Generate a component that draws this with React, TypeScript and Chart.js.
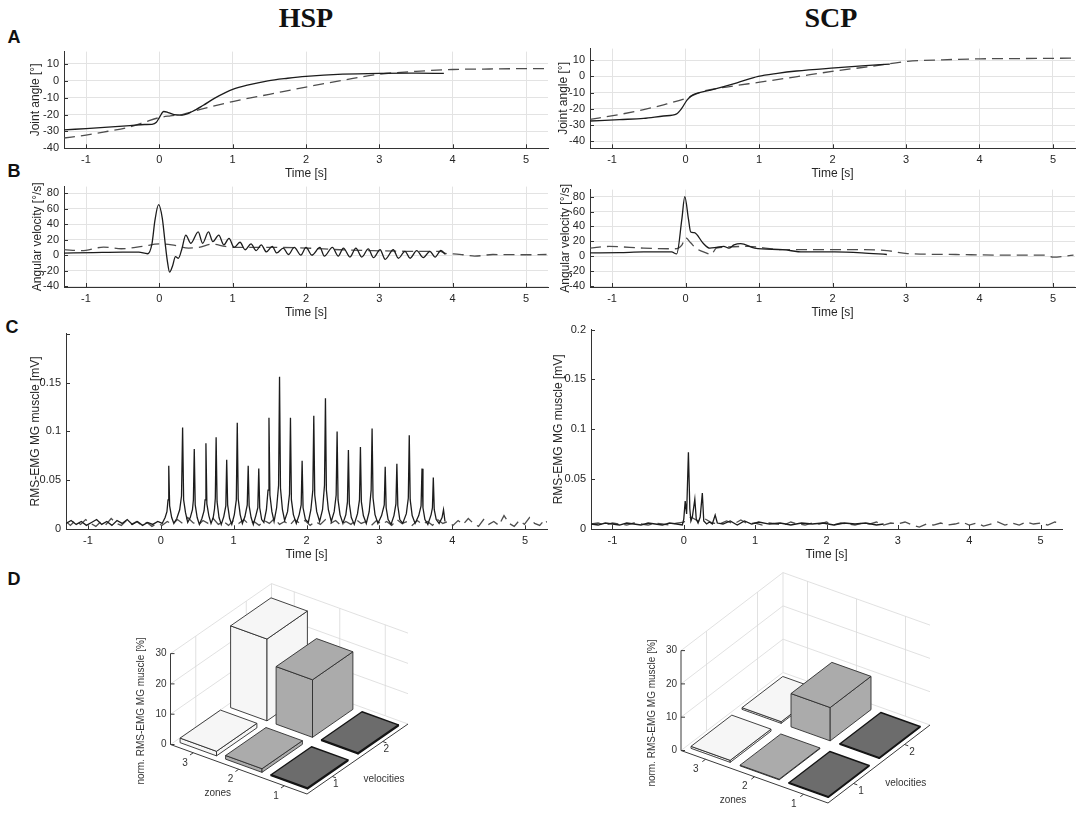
import React, { useEffect, useRef } from 'react';
import Chart from 'chart.js/auto';

type Pt = [number, number];

// A - joint angle [°] over time [s]
const hspAngleSolid: Pt[] = [
  [-1.3, -29.1], [-1.0, -28.3], [-0.7, -27.5], [-0.4, -26.6], [-0.2, -25.9], [-0.1, -25.8],
  [-0.04, -24.6], [0.0, -21.8], [0.06, -18.2], [0.12, -18.8], [0.2, -20.0], [0.31, -20.3],
  [0.45, -18.2], [0.6, -14.5], [0.75, -10.4], [0.9, -7.0], [1.0, -5.1], [1.2, -2.6],
  [1.48, 0.0], [1.75, 1.5], [2.0, 2.6], [2.5, 3.9], [3.0, 4.4], [3.5, 4.5], [3.88, 4.4],
];
const hspAngleDashed: Pt[] = [
  [-1.3, -33.9], [-1.0, -32.2], [-0.7, -29.9], [-0.42, -27.6], [-0.2, -24.5], [0.0, -21.8],
  [0.15, -20.8], [0.31, -20.0], [0.6, -16.5], [1.0, -12.3], [1.5, -8.0], [2.0, -3.7],
  [2.5, 0.3], [3.0, 3.9], [3.5, 5.6], [4.0, 6.7], [4.5, 7.0], [5.0, 7.2], [5.3, 7.2],
];
const scpAngleSolid: Pt[] = [
  [-1.3, -27.5], [-0.9, -26.6], [-0.57, -25.9], [-0.3, -24.4], [-0.12, -23.1], [-0.05, -19.6],
  [0.02, -14.6], [0.08, -12.0], [0.14, -10.6], [0.38, -8.0], [0.7, -4.0], [0.99, 0.0],
  [1.25, 1.9], [1.51, 3.3], [2.03, 5.2], [2.4, 6.4], [2.78, 7.6],
];
const scpAngleDashed: Pt[] = [
  [-1.3, -26.5], [-0.9, -23.5], [-0.57, -20.5], [-0.3, -17.5], [0.0, -13.6], [0.24, -9.2],
  [0.6, -6.3], [0.99, -3.7], [1.5, -0.3], [2.03, 3.3], [2.5, 6.0], [3.02, 9.2],
  [3.5, 10.2], [4.01, 10.8], [4.6, 11.0], [5.28, 11.2],
];

// B - angular velocity [°/s]
const hspVelSolid: Pt[] = [
  [-1.3, 2.6], [-0.9, 3.3], [-0.5, 3.9], [-0.28, 3.8], [-0.16, 1.8], [-0.1, 15], [-0.06, 45],
  [-0.01, 65.4], [0.04, 48], [0.08, 15], [0.11, -8], [0.14, -22], [0.18, -14], [0.22, -2],
  [0.26, -4], [0.31, 9], [0.36, 26], [0.43, 15.4], [0.53, 30], [0.59, 15.4], [0.67, 30],
  [0.73, 17.5], [0.81, 26], [0.88, 13.3], [0.95, 21.7], [1.02, 10], [1.1, 16.7], [1.17, 7],
  [1.25, 14.6], [1.32, 5.8], [1.39, 13.3], [1.46, 4.2], [1.54, 11.3], [1.6, 2.9], [1.69, 9.2],
  [1.76, 0.8], [1.84, 10], [1.93, 0], [2.0, 10], [2.08, 0], [2.19, 10], [2.25, -1.3],
  [2.36, 10], [2.44, -1.3], [2.51, 9.2], [2.6, -2.5], [2.68, 9.2], [2.76, -2.5], [2.85, 8],
  [2.92, -3.3], [3.01, 7], [3.08, -5.4], [3.19, 7], [3.26, -4], [3.35, 5], [3.42, -4],
  [3.51, 5.8], [3.6, -3.3], [3.69, 5], [3.76, -2.5], [3.84, 6], [3.9, 1],
];
const hspVelDashed: Pt[] = [
  [-1.3, 7.1], [-1.06, 5.8], [-0.76, 10.4], [-0.52, 8.3], [-0.23, 11.3], [0.0, 14.6],
  [0.17, 13.3], [0.4, 9.2], [0.54, 10], [0.72, 14.2], [0.9, 11.3], [1.09, 10], [1.55, 10],
  [2.0, 9.2], [2.46, 7], [2.92, 5.8], [3.37, 5], [3.83, 5], [3.9, 2.1], [4.01, 1.7],
  [4.15, 0.5], [4.3, -1.3], [4.55, 0.8], [5.0, 0.5], [5.28, 0.8],
];
const scpVelSolid: Pt[] = [
  [-1.3, 4.4], [-0.9, 4.8], [-0.57, 5.7], [-0.19, 5.7], [-0.12, 3.1], [-0.05, 49.7],
  [-0.01, 80], [0.04, 49.7], [0.07, 32.5], [0.12, 31.6], [0.24, 17.4], [0.33, 10.9],
  [0.42, 11.8], [0.52, 13.1], [0.59, 10.9], [0.66, 15.2], [0.75, 16.9], [0.94, 10.9],
  [1.32, 8.8], [1.6, 5.7], [2.03, 5.7], [2.4, 4.5], [2.74, 2.3],
];
const scpVelDashed: Pt[] = [
  [-1.3, 10.9], [-1.04, 13.1], [-0.57, 10.9], [-0.14, 10], [-0.05, 15], [0.0, 24.7],
  [0.07, 18], [0.14, 10.9], [0.28, 4.4], [0.35, 2.3], [0.42, 10.9], [0.85, 13.1],
  [1.32, 8.8], [1.79, 8.8], [2.27, 8.8], [2.74, 7.5], [3.02, 3.6], [3.68, 2.3], [4.3, 1.5],
  [4.9, 1.4], [5.0, -1.2], [5.28, 1.4],
];

// C - RMS-EMG MG muscle [mV]
const hspEmgSolid: Pt[] = [
  [-1.3, 0.006], [-1.23, 0.009], [-1.16, 0.005], [-1.09, 0.008], [-1.02, 0.004], [-0.95, 0.007],
  [-0.88, 0.01], [-0.81, 0.005], [-0.74, 0.008], [-0.67, 0.004], [-0.6, 0.009], [-0.53, 0.006],
  [-0.46, 0.01], [-0.39, 0.005], [-0.32, 0.008], [-0.25, 0.004], [-0.18, 0.007], [-0.11, 0.005],
  [-0.04, 0.008], [0.02, 0.006], [0.06, 0.012],
  [0.085, 0.018], [0.1, 0.03], [0.11, 0.065], [0.122, 0.024], [0.15, 0.012], [0.18, 0.006], [0.22, 0.011],
  [0.26, 0.02], [0.285, 0.034], [0.3, 0.104], [0.314, 0.03], [0.34, 0.017], [0.37, 0.007], [0.405, 0.012],
  [0.435, 0.02], [0.448, 0.03], [0.46, 0.082], [0.473, 0.025], [0.5, 0.012], [0.53, 0.005], [0.565, 0.011],
  [0.595, 0.019], [0.608, 0.03], [0.62, 0.088], [0.633, 0.026], [0.66, 0.014], [0.69, 0.006], [0.72, 0.012],
  [0.738, 0.021], [0.749, 0.032], [0.76, 0.094], [0.773, 0.028], [0.8, 0.012], [0.83, 0.005], [0.865, 0.013],
  [0.893, 0.024], [0.905, 0.071], [0.918, 0.025], [0.945, 0.011], [0.975, 0.005], [1.01, 0.015],
  [1.037, 0.03], [1.05, 0.109], [1.063, 0.031], [1.09, 0.015], [1.12, 0.006], [1.155, 0.013],
  [1.187, 0.025], [1.2, 0.065], [1.213, 0.024], [1.24, 0.012], [1.27, 0.005], [1.305, 0.014],
  [1.332, 0.022], [1.345, 0.062], [1.358, 0.022], [1.385, 0.01], [1.415, 0.007], [1.45, 0.02],
  [1.472, 0.04], [1.485, 0.114], [1.498, 0.035], [1.525, 0.018], [1.555, 0.008], [1.59, 0.022],
  [1.617, 0.045], [1.63, 0.156], [1.643, 0.042], [1.67, 0.02], [1.7, 0.009], [1.74, 0.018],
  [1.767, 0.036], [1.78, 0.114], [1.793, 0.03], [1.82, 0.015], [1.86, 0.006], [1.9, 0.015],
  [1.927, 0.025], [1.94, 0.07], [1.953, 0.022], [1.985, 0.01], [2.025, 0.007], [2.06, 0.02],
  [2.087, 0.04], [2.1, 0.116], [2.113, 0.035], [2.14, 0.018], [2.18, 0.008], [2.22, 0.02],
  [2.247, 0.045], [2.26, 0.134], [2.273, 0.04], [2.3, 0.02], [2.34, 0.008], [2.38, 0.018],
  [2.407, 0.035], [2.42, 0.1], [2.433, 0.03], [2.46, 0.015], [2.5, 0.006], [2.54, 0.015],
  [2.562, 0.028], [2.575, 0.081], [2.588, 0.026], [2.615, 0.012], [2.655, 0.005], [2.7, 0.016],
  [2.727, 0.03], [2.74, 0.084], [2.753, 0.028], [2.78, 0.014], [2.82, 0.006], [2.86, 0.018],
  [2.887, 0.04], [2.9, 0.103], [2.913, 0.032], [2.94, 0.015], [2.98, 0.006], [3.03, 0.014],
  [3.067, 0.025], [3.08, 0.064], [3.093, 0.022], [3.12, 0.01], [3.16, 0.005], [3.2, 0.014],
  [3.227, 0.026], [3.24, 0.067], [3.253, 0.024], [3.28, 0.01], [3.32, 0.006], [3.37, 0.016],
  [3.397, 0.032], [3.41, 0.096], [3.423, 0.03], [3.45, 0.014], [3.49, 0.006], [3.54, 0.014],
  [3.572, 0.024], [3.585, 0.062], [3.598, 0.022], [3.625, 0.01], [3.665, 0.005], [3.71, 0.015],
  [3.728, 0.022], [3.74, 0.053], [3.753, 0.02], [3.78, 0.01], [3.82, 0.006], [3.86, 0.012],
  [3.88, 0.02], [3.9, 0.008],
];
const hspEmgDashed: Pt[] = [
  [-1.3, 0.008], [-1.24, 0.004], [-1.17, 0.009], [-1.1, 0.005], [-1.03, 0.01], [-0.96, 0.006],
  [-0.89, 0.003], [-0.82, 0.008], [-0.75, 0.005], [-0.68, 0.011], [-0.61, 0.006], [-0.54, 0.004],
  [-0.47, 0.009], [-0.4, 0.005], [-0.33, 0.008], [-0.26, 0.004], [-0.19, 0.007], [-0.12, 0.003],
  [-0.05, 0.006], [0.02, 0.004], [0.09, 0.008], [0.16, 0.005], [0.23, 0.01], [0.3, 0.006],
  [0.37, 0.012], [0.44, 0.007], [0.51, 0.004], [0.58, 0.009], [0.65, 0.006], [0.72, 0.011],
  [0.79, 0.005], [0.86, 0.008], [0.93, 0.004], [1.0, 0.009], [1.07, 0.006], [1.14, 0.01],
  [1.21, 0.005], [1.28, 0.008], [1.35, 0.004], [1.42, 0.009], [1.49, 0.006], [1.56, 0.011],
  [1.63, 0.005], [1.7, 0.008], [1.77, 0.004], [1.84, 0.01], [1.91, 0.006], [1.98, 0.009],
  [2.05, 0.004], [2.12, 0.008], [2.19, 0.005], [2.26, 0.01], [2.33, 0.006], [2.4, 0.009],
  [2.47, 0.004], [2.54, 0.008], [2.61, 0.005], [2.68, 0.01], [2.75, 0.006], [2.82, 0.008],
  [2.89, 0.004], [2.96, 0.009], [3.03, 0.005], [3.1, 0.008], [3.17, 0.004], [3.24, 0.01],
  [3.31, 0.006], [3.38, 0.008], [3.45, 0.004], [3.52, 0.009], [3.59, 0.005], [3.66, 0.008],
  [3.73, 0.004], [3.8, 0.01], [3.87, 0.006], [3.94, 0.008], [4.01, 0.004], [4.08, 0.009],
  [4.15, 0.005], [4.22, 0.011], [4.29, 0.006], [4.36, 0.003], [4.43, 0.01], [4.5, 0.005],
  [4.57, 0.008], [4.64, 0.004], [4.71, 0.014], [4.78, 0.006], [4.85, 0.003], [4.92, 0.009],
  [4.99, 0.005], [5.06, 0.012], [5.13, 0.006], [5.2, 0.004], [5.27, 0.01], [5.3, 0.007],
];
const scpEmgSolid: Pt[] = [
  [-1.3, 0.005], [-1.2, 0.004], [-1.1, 0.006], [-1.0, 0.005], [-0.9, 0.004], [-0.8, 0.006],
  [-0.7, 0.005], [-0.6, 0.004], [-0.5, 0.006], [-0.4, 0.005], [-0.3, 0.004], [-0.2, 0.006],
  [-0.1, 0.005], [-0.02, 0.004], [0.0, 0.01], [0.02, 0.028], [0.04, 0.015], [0.065, 0.077],
  [0.085, 0.02], [0.1, 0.008], [0.12, 0.012], [0.155, 0.03], [0.175, 0.01], [0.2, 0.006],
  [0.23, 0.012], [0.26, 0.036], [0.28, 0.008], [0.32, 0.005], [0.36, 0.007], [0.4, 0.005],
  [0.44, 0.014], [0.47, 0.006], [0.55, 0.005], [0.65, 0.008], [0.75, 0.004], [0.85, 0.008],
  [0.95, 0.005], [1.05, 0.007], [1.2, 0.005], [1.35, 0.006], [1.5, 0.004], [1.65, 0.006],
  [1.8, 0.005], [1.95, 0.006], [2.1, 0.004], [2.25, 0.006], [2.4, 0.005], [2.55, 0.006],
  [2.7, 0.004], [2.8, 0.005],
];
const scpEmgDashed: Pt[] = [
  [-1.3, 0.005], [-1.2, 0.006], [-1.1, 0.004], [-1.0, 0.006], [-0.9, 0.005], [-0.8, 0.004],
  [-0.7, 0.006], [-0.6, 0.005], [-0.5, 0.004], [-0.4, 0.006], [-0.3, 0.005], [-0.2, 0.004],
  [-0.1, 0.006], [0.0, 0.007], [0.1, 0.012], [0.2, 0.008], [0.3, 0.01], [0.4, 0.006],
  [0.5, 0.005], [0.6, 0.008], [0.7, 0.005], [0.8, 0.009], [0.9, 0.005], [1.0, 0.006],
  [1.1, 0.004], [1.2, 0.006], [1.3, 0.005], [1.4, 0.004], [1.5, 0.007], [1.6, 0.005],
  [1.7, 0.004], [1.8, 0.006], [1.9, 0.005], [2.0, 0.007], [2.1, 0.004], [2.2, 0.006],
  [2.3, 0.005], [2.4, 0.004], [2.5, 0.006], [2.6, 0.005], [2.7, 0.007], [2.8, 0.004],
  [2.9, 0.006], [3.0, 0.005], [3.1, 0.007], [3.2, 0.004], [3.3, 0.002], [3.4, 0.005],
  [3.5, 0.004], [3.6, 0.006], [3.7, 0.004], [3.8, 0.005], [3.9, 0.007], [4.0, 0.004],
  [4.1, 0.006], [4.2, 0.003], [4.3, 0.005], [4.4, 0.007], [4.5, 0.004], [4.6, 0.006],
  [4.7, 0.004], [4.8, 0.007], [4.9, 0.005], [5.0, 0.006], [5.1, 0.004], [5.2, 0.007],
  [5.3, 0.005],
];

// D - norm. RMS-EMG MG muscle [%] per zone (1..3), one list per velocity
const zones = [1, 2, 3];
const velocities = [1, 2];
const hspNormVel1 = [0.3, 1.2, 1.5];
const hspNormVel2 = [0.3, 19, 27];
const scpNormVel1 = [0.2, 0.2, 0.6];
const scpNormVel2 = [0.2, 10, 0.5];
const zTicks = [0, 10, 20, 30];

const SANS = '"Liberation Sans", Arial, Helvetica, sans-serif';
const INK = '#262626';

const inwardTicks = {
  id: 'inwardTicks',
  afterDraw(chart: any) {
    const { ctx, chartArea, scales } = chart;
    ctx.save();
    ctx.strokeStyle = '#333';
    ctx.lineWidth = 1;
    ctx.beginPath();
    scales.x.ticks.forEach((t: any) => {
      const px = Math.round(scales.x.getPixelForValue(t.value)) + 0.5;
      ctx.moveTo(px, chartArea.bottom);
      ctx.lineTo(px, chartArea.bottom - 4);
    });
    scales.y.ticks.forEach((t: any) => {
      const py = Math.round(scales.y.getPixelForValue(t.value)) + 0.5;
      ctx.moveTo(chartArea.left, py);
      ctx.lineTo(chartArea.left + 4, py);
    });
    ctx.stroke();
    ctx.restore();
  },
};

interface PanelBox {
  left: number;
  right: number;
  top: number;
  bottom: number;
  yTitleX: number;
  xTitleY: number;
}

interface LinePanelProps {
  solid: Pt[];
  dashed: Pt[];
  yMin: number;
  yMax: number;
  yStep: number;
  yTitle: string;
  grid: boolean;
  smooth: boolean;
  hideTopTick?: boolean;
  box: PanelBox;
}

const LinePanel: React.FC<LinePanelProps> = ({ solid, dashed, yMin, yMax, yStep, yTitle, grid, smooth, hideTopTick, box }) => {
  const canvasRef = useRef<HTMLCanvasElement>(null);
  const chartRef = useRef<Chart | null>(null);

  // whole-pixel canvas placement, so nothing gets resampled
  const cLeft = Math.round(box.yTitleX - 9);
  const cTop = Math.round(box.top - 8);
  const cW = Math.round(box.right + 6) - cLeft;
  const cH = Math.round(box.xTitleY + 9) - cTop;
  const padTop = box.top - cTop;
  const padRight = cLeft + cW - box.right;
  const yAxisW = box.left - cLeft;
  const xAxisH = cTop + cH - box.bottom;
  const yTitlePad = box.yTitleX - cLeft - 7.2;
  const xTitlePad = cTop + cH - box.xTitleY - 7.2;

  useEffect(() => {
    const ctx = canvasRef.current?.getContext('2d');
    if (!ctx) return;
    if (chartRef.current) chartRef.current.destroy();

    const series = (pts: Pt[], dash: number[], color: string) => ({
      data: pts.map(([x, y]) => ({ x, y })),
      borderColor: color,
      borderWidth: 1.3,
      borderDash: dash,
      pointRadius: 0,
      fill: false,
      tension: 0,
      cubicInterpolationMode: smooth ? 'monotone' : 'default',
    });

    chartRef.current = new Chart(ctx, {
      type: 'line',
      data: {
        datasets: [series(solid, [], '#1c1c1c'), series(dashed, [11, 6], '#4d4d4d')],
      },
      options: {
        animation: false,
        responsive: false,
        layout: { padding: { left: 0, top: padTop, right: padRight, bottom: 0 } },
        plugins: { legend: { display: false }, tooltip: { enabled: false } },
        scales: {
          x: {
            type: 'linear',
            min: -1.3,
            max: 5.3,
            afterFit: (s: any) => { s.height = xAxisH; },
            ticks: { stepSize: 1, includeBounds: false, padding: 5, maxRotation: 0, autoSkip: false, color: INK, font: { family: SANS, size: 11 } },
            grid: { display: grid, color: '#e3e3e3', drawTicks: false },
            border: { display: true, color: '#333', width: 1 },
            title: { display: true, text: 'Time [s]', color: INK, font: { family: SANS, size: 12 }, padding: { top: 0, bottom: xTitlePad } },
          },
          y: {
            type: 'linear',
            min: yMin,
            max: yMax,
            afterFit: (s: any) => { s.width = yAxisW; },
            ticks: {
              stepSize: yStep,
              includeBounds: false,
              padding: 5,
              autoSkip: false,
              color: INK,
              font: { family: SANS, size: 11 },
              callback: (v: any) => (hideTopTick && Math.abs(v - yMax) < 1e-9 ? '' : String(Number(Number(v).toFixed(3)))),
            },
            grid: { display: grid, color: '#e3e3e3', drawTicks: false },
            border: { display: true, color: '#333', width: 1 },
            title: { display: true, text: yTitle, color: INK, font: { family: SANS, size: 12 }, padding: { top: yTitlePad, bottom: 0 } },
          },
        },
      },
      plugins: [inwardTicks],
    } as any);

    return () => {
      if (chartRef.current) {
        chartRef.current.destroy();
        chartRef.current = null;
      }
    };
  }, [solid, dashed, yMin, yMax, yStep, yTitle, grid, smooth, hideTopTick, xAxisH, yAxisW, padTop, padRight, xTitlePad, yTitlePad]);

  return (
    <canvas
      ref={canvasRef}
      width={cW}
      height={cH}
      style={{ position: 'absolute', left: cLeft, top: cTop, width: cW, height: cH }}
    />
  );
};

interface Projection {
  fx: number;
  fy: number;
  dz: [number, number];
  dv: [number, number];
  hs: number;
}

interface Bar3DProps {
  vel1: number[];
  vel2: number[];
  left: number;
  top: number;
  width: number;
  height: number;
  proj: Projection;
  zoneOff: [number, number];
  velOff: [number, number];
  zonesTitleOff: [number, number];
  velTitleOff: [number, number];
  zTitleDx: number;
  zTitleY: number;
}

const zoneColors = ['#6c6c6c', '#ababab', '#f6f6f6'];

const Bar3D: React.FC<Bar3DProps> = (props) => {
  const { vel1, vel2, left, top, width, height } = props;
  const canvasRef = useRef<HTMLCanvasElement>(null);
  const chartRef = useRef<Chart | null>(null);

  useEffect(() => {
    const ctx = canvasRef.current?.getContext('2d');
    if (!ctx) return;
    if (chartRef.current) chartRef.current.destroy();
    const { proj, zoneOff, velOff, zonesTitleOff, velTitleOff, zTitleDx, zTitleY } = props;

    const scene = {
      id: 'bar3dScene',
      afterDatasetsDraw(chart: any) {
        const c = chart.ctx as CanvasRenderingContext2D;
        const sx = chart.scales.x;
        const sy = chart.scales.y;
        const P = (z: number, v: number, h: number): [number, number] => {
          const x = proj.fx + (z - 0.5) * proj.dz[0] + (v - 0.5) * proj.dv[0];
          const y = proj.fy + (z - 0.5) * proj.dz[1] + (v - 0.5) * proj.dv[1] - h * proj.hs;
          return [sx.getPixelForValue(x), sy.getPixelForValue(y)];
        };
        const seg = (a: [number, number], b: [number, number]) => {
          c.moveTo(a[0], a[1]);
          c.lineTo(b[0], b[1]);
        };
        const zMax = zTicks[zTicks.length - 1];
        c.save();

        // back walls grid
        c.strokeStyle = '#d9d9d9';
        c.lineWidth = 0.8;
        c.beginPath();
        zTicks.forEach((h) => {
          seg(P(3.5, 0.5, h), P(3.5, 2.5, h));
          seg(P(3.5, 2.5, h), P(0.5, 2.5, h));
        });
        [...velocities, 2.5].forEach((v) => seg(P(3.5, v, 0), P(3.5, v, zMax)));
        zones.forEach((z) => seg(P(z, 2.5, 0), P(z, 2.5, zMax)));
        c.stroke();

        // axes
        c.strokeStyle = '#3a3a3a';
        c.lineWidth = 1;
        c.beginPath();
        seg(P(3.5, 0.5, 0), P(3.5, 0.5, zMax));
        seg(P(0.5, 0.5, 0), P(3.5, 0.5, 0));
        seg(P(0.5, 0.5, 0), P(0.5, 2.5, 0));
        zTicks.forEach((h) => {
          const p = P(3.5, 0.5, h);
          seg(p, [p[0] + 4, p[1]]);
        });
        const dvLen = Math.hypot(proj.dv[0], proj.dv[1]);
        const dzLen = Math.hypot(proj.dz[0], proj.dz[1]);
        zones.forEach((z) => {
          const p = P(z, 0.5, 0);
          seg(p, [p[0] - (proj.dv[0] / dvLen) * 4, p[1] - (proj.dv[1] / dvLen) * 4]);
        });
        velocities.forEach((v) => {
          const p = P(0.5, v, 0);
          seg(p, [p[0] - (proj.dz[0] / dzLen) * 4, p[1] - (proj.dz[1] / dzLen) * 4]);
        });
        c.stroke();

        // bars, far ones first
        const bars: { z: number; v: number; h: number }[] = [];
        chart.data.datasets.forEach((ds: any, di: number) => {
          ds.data.forEach((pt: any) => bars.push({ z: pt.x, v: velocities[di], h: pt.y }));
        });
        bars.sort((a, b) => P(a.z, a.v, 0)[1] - P(b.z, b.v, 0)[1]);
        const w = 0.4;
        const face = (pts: [number, number][], fill: string) => {
          c.beginPath();
          c.moveTo(pts[0][0], pts[0][1]);
          for (let i = 1; i < pts.length; i++) c.lineTo(pts[i][0], pts[i][1]);
          c.closePath();
          c.fillStyle = fill;
          c.fill();
          c.stroke();
        };
        bars.forEach(({ z, v, h }) => {
          const fill = zoneColors[z - 1];
          c.strokeStyle = z === 1 ? '#151515' : '#2e2e2e';
          c.lineWidth = z === 1 ? 1.4 : 0.9;
          c.lineJoin = 'round';
          face([P(z + w, v - w, 0), P(z - w, v - w, 0), P(z - w, v - w, h), P(z + w, v - w, h)], fill);
          face([P(z - w, v - w, 0), P(z - w, v + w, 0), P(z - w, v + w, h), P(z - w, v - w, h)], fill);
          face([P(z - w, v - w, h), P(z + w, v - w, h), P(z + w, v + w, h), P(z - w, v + w, h)], fill);
        });

        // labels
        c.fillStyle = '#333';
        c.font = `10px ${SANS}`;
        c.textAlign = 'center';
        c.textBaseline = 'middle';
        zones.forEach((z) => {
          const p = P(z, 0.5, 0);
          c.fillText(String(z), p[0] + zoneOff[0], p[1] + zoneOff[1]);
        });
        velocities.forEach((v) => {
          const p = P(0.5, v, 0);
          c.fillText(String(v), p[0] + velOff[0], p[1] + velOff[1]);
        });
        const pz = P(2, 0.5, 0);
        c.fillText('zones', pz[0] + zonesTitleOff[0], pz[1] + zonesTitleOff[1]);
        const pv = P(0.5, 1.5, 0);
        c.fillText('velocities', pv[0] + velTitleOff[0], pv[1] + velTitleOff[1]);
        c.textAlign = 'right';
        zTicks.forEach((h) => {
          const p = P(3.5, 0.5, h);
          c.fillText(String(h), p[0] - 4, p[1]);
        });
        const p0 = P(3.5, 0.5, 0);
        c.translate(p0[0] + zTitleDx, sy.getPixelForValue(zTitleY));
        c.rotate(-Math.PI / 2);
        c.textAlign = 'center';
        c.fillText('norm. RMS-EMG MG muscle [%]', 0, 0);
        c.restore();
      },
    };

    chartRef.current = new Chart(ctx, {
      type: 'scatter',
      data: {
        datasets: [
          { data: zones.map((z, i) => ({ x: z, y: vel1[i] })), pointRadius: 0 },
          { data: zones.map((z, i) => ({ x: z, y: vel2[i] })), pointRadius: 0 },
        ],
      },
      options: {
        animation: false,
        responsive: false,
        layout: { padding: 0 },
        plugins: { legend: { display: false }, tooltip: { enabled: false } },
        scales: {
          x: { type: 'linear', display: false, min: 0, max: width },
          y: { type: 'linear', display: false, min: 0, max: height, reverse: true },
        },
      },
      plugins: [scene],
    } as any);

    return () => {
      if (chartRef.current) {
        chartRef.current.destroy();
        chartRef.current = null;
      }
    };
  }, []);

  return (
    <canvas
      ref={canvasRef}
      width={width}
      height={height}
      style={{ position: 'absolute', left, top, width, height }}
    />
  );
};

const label = (text: string, x: number, y: number, style: React.CSSProperties) => (
  <div
    style={{
      position: 'absolute',
      left: x,
      top: y,
      transform: 'translate(-50%, -50%)',
      lineHeight: 1,
      whiteSpace: 'nowrap',
      color: '#111',
      ...style,
    }}
  >
    {text}
  </div>
);

const letter = { fontFamily: SANS, fontWeight: 700, fontSize: 18 };
const heading = { fontFamily: '"Liberation Serif", "Times New Roman", serif', fontWeight: 700, fontSize: 28 };

const App: React.FC = () => {
  return (
    <div style={{ position: 'absolute', left: 0, top: 0, width: 1084, height: 818, background: '#fff', overflow: 'hidden' }}>
      {label('HSP', 306, 18, heading)}
      {label('SCP', 831, 18, heading)}
      {label('A', 14, 37, letter)}
      {label('B', 14, 171, letter)}
      {label('C', 12, 327, letter)}
      {label('D', 14, 579, letter)}

      <LinePanel
        solid={hspAngleSolid} dashed={hspAngleDashed} yMin={-40} yMax={17.3} yStep={10}
        yTitle="Joint angle [°]" grid smooth
        box={{ left: 64, right: 548, top: 48.3, bottom: 148.3, yTitleX: 36, xTitleY: 174 }}
      />
      <LinePanel
        solid={scpAngleSolid} dashed={scpAngleDashed} yMin={-44.3} yMax={17.1} yStep={10}
        yTitle="Joint angle [°]" grid smooth
        box={{ left: 590, right: 1075, top: 45, bottom: 148.3, yTitleX: 564, xTitleY: 174 }}
      />
      <LinePanel
        solid={hspVelSolid} dashed={hspVelDashed} yMin={-41.25} yMax={88.75} yStep={20}
        yTitle="Angular velocity [°/s]" grid smooth
        box={{ left: 64, right: 548, top: 183, bottom: 287, yTitleX: 37.5, xTitleY: 313 }}
      />
      <LinePanel
        solid={scpVelSolid} dashed={scpVelDashed} yMin={-41.3} yMax={89.4} yStep={20}
        yTitle="Angular velocity [°/s]" grid smooth
        box={{ left: 590, right: 1075, top: 186, bottom: 287, yTitleX: 566, xTitleY: 313 }}
      />
      <LinePanel
        solid={hspEmgSolid} dashed={hspEmgDashed} yMin={0} yMax={0.2} yStep={0.05}
        yTitle="RMS-EMG MG muscle [mV]" grid={false} smooth={false} hideTopTick
        box={{ left: 66, right: 547, top: 330, bottom: 529.3, yTitleX: 36, xTitleY: 555 }}
      />
      <LinePanel
        solid={scpEmgSolid} dashed={scpEmgDashed} yMin={0} yMax={0.2} yStep={0.05}
        yTitle="RMS-EMG MG muscle [mV]" grid={false} smooth={false}
        box={{ left: 591, right: 1062, top: 326, bottom: 529, yTitleX: 559, xTitleY: 555 }}
      />

      <Bar3D
        vel1={hspNormVel1} vel2={hspNormVel2}
        left={115} top={568} width={330} height={250}
        proj={{ fx: 307 - 115, fy: 794 - 568, dz: [-45.5, -16.5], dv: [50.5, -35], hs: 3.03 }}
        zoneOff={[-8.3, 10]} velOff={[3.5, 7.5]} zonesTitleOff={[-21, 24]} velTitleOff={[26.5, 20]}
        zTitleDx={-29} zTitleY={711 - 568}
      />
      <Bar3D
        vel1={scpNormVel1} vel2={scpNormVel2}
        left={630} top={562} width={335} height={256}
        proj={{ fx: 828 - 630, fy: 803 - 562, dz: [-49, -17.5], dv: [51, -39], hs: 3.33 }}
        zoneOff={[-9.6, 9.7]} velOff={[7.5, 7.4]} zonesTitleOff={[-21.5, 23]} velTitleOff={[26.7, 19.3]}
        zTitleDx={-29} zTitleY={713 - 562}
      />
    </div>
  );
};

export default App;
